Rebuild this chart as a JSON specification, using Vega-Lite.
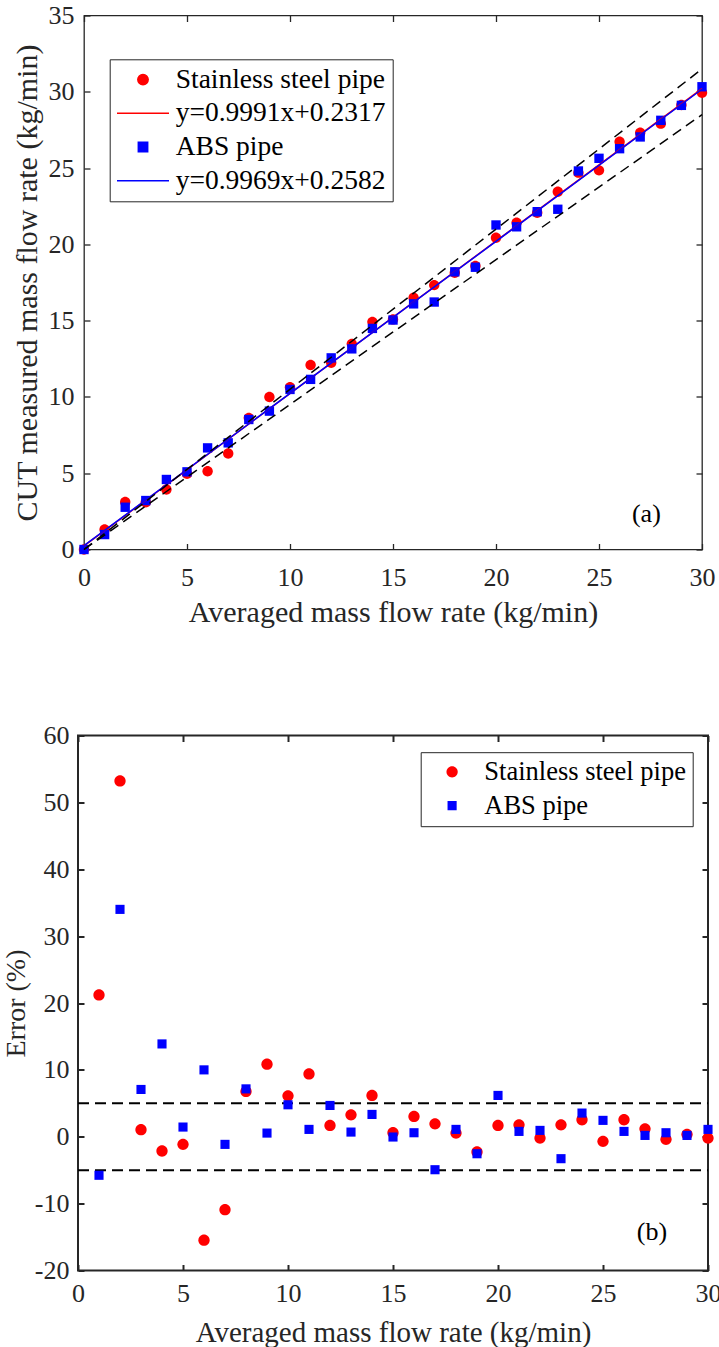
{
  "$schema": "https://vega.github.io/schema/vega-lite/v6.json",
  "padding": {"left": 0, "top": 1.5, "right": 0, "bottom": 0},
  "background": "white",
  "config": {
    "font": "Liberation Serif",
    "view": {"stroke": "#262626"},
    "axis": {
      "domain": false,
      "grid": false,
      "labelFont": "Liberation Serif",
      "titleFont": "Liberation Serif",
      "labelColor": "#262626",
      "titleColor": "#262626",
      "titleFontWeight": "normal",
      "labelFontSize": 26,
      "titleFontSize": 30,
      "tickColor": "#262626",
      "tickWidth": 1.3,
      "labelFlush": false,
      "labelOverlap": false
    },
    "legend": {"labelFont": "Liberation Serif", "labelColor": "#000000", "labelLimit": 500, "title": null}
  },
  "datasets": {
    "top_pts": [
      {"x": 0, "y": 0, "series": "Stainless steel pipe"},
      {"x": 1, "y": 1.31, "series": "Stainless steel pipe"},
      {"x": 2, "y": 3.12, "series": "Stainless steel pipe"},
      {"x": 3, "y": 3.1, "series": "Stainless steel pipe"},
      {"x": 4, "y": 3.93, "series": "Stainless steel pipe"},
      {"x": 5, "y": 4.96, "series": "Stainless steel pipe"},
      {"x": 6, "y": 5.13, "series": "Stainless steel pipe"},
      {"x": 7, "y": 6.29, "series": "Stainless steel pipe"},
      {"x": 8, "y": 8.63, "series": "Stainless steel pipe"},
      {"x": 9, "y": 10.0, "series": "Stainless steel pipe"},
      {"x": 10, "y": 10.64, "series": "Stainless steel pipe"},
      {"x": 11, "y": 12.09, "series": "Stainless steel pipe"},
      {"x": 12, "y": 12.24, "series": "Stainless steel pipe"},
      {"x": 13, "y": 13.48, "series": "Stainless steel pipe"},
      {"x": 14, "y": 14.92, "series": "Stainless steel pipe"},
      {"x": 15, "y": 15.08, "series": "Stainless steel pipe"},
      {"x": 16, "y": 16.5, "series": "Stainless steel pipe"},
      {"x": 17, "y": 17.33, "series": "Stainless steel pipe"},
      {"x": 18, "y": 18.14, "series": "Stainless steel pipe"},
      {"x": 19, "y": 18.58, "series": "Stainless steel pipe"},
      {"x": 20, "y": 20.43, "series": "Stainless steel pipe"},
      {"x": 21, "y": 21.42, "series": "Stainless steel pipe"},
      {"x": 22, "y": 22.07, "series": "Stainless steel pipe"},
      {"x": 23, "y": 23.45, "series": "Stainless steel pipe"},
      {"x": 24, "y": 24.7, "series": "Stainless steel pipe"},
      {"x": 25, "y": 24.85, "series": "Stainless steel pipe"},
      {"x": 26, "y": 26.73, "series": "Stainless steel pipe"},
      {"x": 27, "y": 27.32, "series": "Stainless steel pipe"},
      {"x": 28, "y": 27.91, "series": "Stainless steel pipe"},
      {"x": 29, "y": 29.13, "series": "Stainless steel pipe"},
      {"x": 30, "y": 29.94, "series": "Stainless steel pipe"},
      {"x": 0, "y": 0, "series": "ABS pipe"},
      {"x": 1, "y": 0.98, "series": "ABS pipe"},
      {"x": 2, "y": 2.77, "series": "ABS pipe"},
      {"x": 3, "y": 3.21, "series": "ABS pipe"},
      {"x": 4, "y": 4.59, "series": "ABS pipe"},
      {"x": 5, "y": 5.09, "series": "ABS pipe"},
      {"x": 6, "y": 6.66, "series": "ABS pipe"},
      {"x": 7, "y": 6.99, "series": "ABS pipe"},
      {"x": 8, "y": 8.52, "series": "ABS pipe"},
      {"x": 9, "y": 9.07, "series": "ABS pipe"},
      {"x": 10, "y": 10.49, "series": "ABS pipe"},
      {"x": 11, "y": 11.15, "series": "ABS pipe"},
      {"x": 12, "y": 12.56, "series": "ABS pipe"},
      {"x": 13, "y": 13.15, "series": "ABS pipe"},
      {"x": 14, "y": 14.49, "series": "ABS pipe"},
      {"x": 15, "y": 15.04, "series": "ABS pipe"},
      {"x": 16, "y": 16.1, "series": "ABS pipe"},
      {"x": 17, "y": 16.22, "series": "ABS pipe"},
      {"x": 18, "y": 18.2, "series": "ABS pipe"},
      {"x": 19, "y": 18.5, "series": "ABS pipe"},
      {"x": 20, "y": 21.27, "series": "ABS pipe"},
      {"x": 21, "y": 21.15, "series": "ABS pipe"},
      {"x": 22, "y": 22.14, "series": "ABS pipe"},
      {"x": 23, "y": 22.3, "series": "ABS pipe"},
      {"x": 24, "y": 24.81, "series": "ABS pipe"},
      {"x": 25, "y": 25.64, "series": "ABS pipe"},
      {"x": 26, "y": 26.27, "series": "ABS pipe"},
      {"x": 27, "y": 27.04, "series": "ABS pipe"},
      {"x": 28, "y": 28.13, "series": "ABS pipe"},
      {"x": 29, "y": 29.11, "series": "ABS pipe"},
      {"x": 30, "y": 30.33, "series": "ABS pipe"}
    ],
    "top_fit": [
      {"x": 0, "y": 0.2317, "series": "y=0.9991x+0.2317"},
      {"x": 30, "y": 30.2047, "series": "y=0.9991x+0.2317"},
      {"x": 0, "y": 0.2582, "series": "y=0.9969x+0.2582"},
      {"x": 30, "y": 30.1652, "series": "y=0.9969x+0.2582"}
    ],
    "top_band": [
      {"x": 0, "y": 0, "grp": "plus5"},
      {"x": 30, "y": 31.5, "grp": "plus5"},
      {"x": 0, "y": 0, "grp": "minus5"},
      {"x": 30, "y": 28.5, "grp": "minus5"}
    ],
    "err_pts": [
      {"x": 1, "y": 21.2, "series": "Stainless steel pipe"},
      {"x": 2, "y": 53.2, "series": "Stainless steel pipe"},
      {"x": 3, "y": 1.05, "series": "Stainless steel pipe"},
      {"x": 4, "y": -2.13, "series": "Stainless steel pipe"},
      {"x": 5, "y": -1.14, "series": "Stainless steel pipe"},
      {"x": 6, "y": -15.46, "series": "Stainless steel pipe"},
      {"x": 7, "y": -10.9, "series": "Stainless steel pipe"},
      {"x": 8, "y": 6.78, "series": "Stainless steel pipe"},
      {"x": 9, "y": 10.85, "series": "Stainless steel pipe"},
      {"x": 10, "y": 6.12, "series": "Stainless steel pipe"},
      {"x": 11, "y": 9.4, "series": "Stainless steel pipe"},
      {"x": 12, "y": 1.7, "series": "Stainless steel pipe"},
      {"x": 13, "y": 3.28, "series": "Stainless steel pipe"},
      {"x": 14, "y": 6.18, "series": "Stainless steel pipe"},
      {"x": 15, "y": 0.6, "series": "Stainless steel pipe"},
      {"x": 16, "y": 3.04, "series": "Stainless steel pipe"},
      {"x": 17, "y": 1.94, "series": "Stainless steel pipe"},
      {"x": 18, "y": 0.55, "series": "Stainless steel pipe"},
      {"x": 19, "y": -2.28, "series": "Stainless steel pipe"},
      {"x": 20, "y": 1.7, "series": "Stainless steel pipe"},
      {"x": 21, "y": 1.79, "series": "Stainless steel pipe"},
      {"x": 22, "y": -0.2, "series": "Stainless steel pipe"},
      {"x": 23, "y": 1.79, "series": "Stainless steel pipe"},
      {"x": 24, "y": 2.54, "series": "Stainless steel pipe"},
      {"x": 25, "y": -0.69, "series": "Stainless steel pipe"},
      {"x": 26, "y": 2.54, "series": "Stainless steel pipe"},
      {"x": 27, "y": 1.19, "series": "Stainless steel pipe"},
      {"x": 28, "y": -0.39, "series": "Stainless steel pipe"},
      {"x": 29, "y": 0.36, "series": "Stainless steel pipe"},
      {"x": 30, "y": -0.2, "series": "Stainless steel pipe"},
      {"x": 1, "y": -5.76, "series": "ABS pipe"},
      {"x": 2, "y": 34.0, "series": "ABS pipe"},
      {"x": 3, "y": 7.07, "series": "ABS pipe"},
      {"x": 4, "y": 13.88, "series": "ABS pipe"},
      {"x": 5, "y": 1.45, "series": "ABS pipe"},
      {"x": 6, "y": 10.0, "series": "ABS pipe"},
      {"x": 7, "y": -1.14, "series": "ABS pipe"},
      {"x": 8, "y": 7.16, "series": "ABS pipe"},
      {"x": 9, "y": 0.55, "series": "ABS pipe"},
      {"x": 10, "y": 4.78, "series": "ABS pipe"},
      {"x": 11, "y": 1.1, "series": "ABS pipe"},
      {"x": 12, "y": 4.68, "series": "ABS pipe"},
      {"x": 13, "y": 0.7, "series": "ABS pipe"},
      {"x": 14, "y": 3.34, "series": "ABS pipe"},
      {"x": 15, "y": -0.04, "series": "ABS pipe"},
      {"x": 16, "y": 0.6, "series": "ABS pipe"},
      {"x": 17, "y": -4.93, "series": "ABS pipe"},
      {"x": 18, "y": 1.1, "series": "ABS pipe"},
      {"x": 19, "y": -2.54, "series": "ABS pipe"},
      {"x": 20, "y": 6.18, "series": "ABS pipe"},
      {"x": 21, "y": 0.8, "series": "ABS pipe"},
      {"x": 22, "y": 0.95, "series": "ABS pipe"},
      {"x": 23, "y": -3.28, "series": "ABS pipe"},
      {"x": 24, "y": 3.54, "series": "ABS pipe"},
      {"x": 25, "y": 2.45, "series": "ABS pipe"},
      {"x": 26, "y": 0.8, "series": "ABS pipe"},
      {"x": 27, "y": 0.2, "series": "ABS pipe"},
      {"x": 28, "y": 0.6, "series": "ABS pipe"},
      {"x": 29, "y": 0.2, "series": "ABS pipe"},
      {"x": 30, "y": 1.1, "series": "ABS pipe"}
    ],
    "err_band": [
      {"x": 0, "y": 5, "grp": "plus5"},
      {"x": 30, "y": 5, "grp": "plus5"},
      {"x": 0, "y": -5, "grp": "minus5"},
      {"x": 30, "y": -5, "grp": "minus5"}
    ],
    "lab_a": [{"x": 27.3, "y": 2.3, "t": "(a)"}],
    "lab_b": [{"x": 27.33, "y": -14.2, "t": "(b)"}]
  },
  "spacing": 93,
  "resolve": {
    "scale": {"color": "independent", "shape": "independent"},
    "legend": {"color": "independent", "shape": "independent"}
  },
  "vconcat": [
    {
      "spacing": 0,
      "hconcat": [
        {
          "width": 10.6,
          "height": 1,
          "view": {"stroke": null},
          "data": {"values": []},
          "mark": {"type": "point", "opacity": 0},
          "encoding": {}
        },
        {
          "width": 618,
          "height": 534,
          "view": {"stroke": "#262626", "strokeWidth": 1.3},
          "resolve": {"axis": {"x": "independent", "y": "independent"}},
          "layer": [
            {
              "data": {"name": "top_pts"},
              "mark": {"type": "point", "filled": true, "size": 2704, "opacity": 1, "strokeWidth": 0},
              "encoding": {
                "x": {"field": "x", "type": "quantitative", "scale": {"domain": [0, 30], "nice": false, "zero": false},
                  "axis": {"orient": "bottom", "ticks": false, "tickSize": 0, "values": [0, 5, 10, 15, 20, 25, 30], "labelPadding": 15.4, "title": "Averaged mass flow rate (kg/min)", "titlePadding": 6.5, "titleFontSize": 30}},
                "y": {"field": "y", "type": "quantitative", "scale": {"domain": [0, 35], "nice": false, "zero": false},
                  "axis": {"orient": "left", "ticks": false, "tickSize": 0, "values": [0, 5, 10, 15, 20, 25, 30, 35], "labelPadding": 10, "title": "CUT measured mass flow rate (kg/min)", "titlePadding": 6, "titleFontSize": 30}},
                "color": {"field": "series", "type": "nominal",
                  "scale": {"domain": ["Stainless steel pipe", "y=0.9991x+0.2317", "ABS pipe", "y=0.9969x+0.2582"], "range": ["#ff0000", "#ff0000", "#0000ff", "#0000ff"]},
                  "legend": {"orient": "none", "legendX": 109.7, "legendY": 43.8, "labelFontSize": 27.5, "symbolSize": 2704, "strokeColor": "#262626", "fillColor": "#ffffff", "padding": 6.3, "labelOffset": 5.7, "rowPadding": 5.7, "clipHeight": 28,
                    "encode": {"symbols": {"update": {
                      "fill": {"signal": "(datum.value === 'ABS pipe' || datum.value === 'y=0.9969x+0.2582') ? '#0000ff' : '#ff0000'"},
                      "stroke": {"signal": "(datum.value === 'ABS pipe' || datum.value === 'y=0.9969x+0.2582') ? '#0000ff' : '#ff0000'"},
                      "strokeWidth": {"value": 1.5},
                      "opacity": {"value": 1}}}}}},
                "shape": {"field": "series", "type": "nominal",
                  "scale": {"domain": ["Stainless steel pipe", "y=0.9991x+0.2317", "ABS pipe", "y=0.9969x+0.2582"],
                    "range": ["M-0.2,0A0.2,0.2,0,1,0,0.2,0A0.2,0.2,0,1,0,-0.2,0Z", "stroke", "M-0.18,-0.18H0.18V0.18H-0.18Z", "stroke"]}}
              }
            },
            {
              "data": {"name": "top_fit"},
              "mark": {"type": "line", "strokeWidth": 1.5},
              "encoding": {
                "x": {"field": "x", "type": "quantitative",
                  "axis": {"orient": "bottom", "labels": false, "title": null, "ticks": true, "tickSize": -6, "values": [0, 5, 10, 15, 20, 25, 30]}},
                "y": {"field": "y", "type": "quantitative",
                  "axis": {"orient": "left", "labels": false, "title": null, "ticks": true, "tickSize": -6, "values": [0, 5, 10, 15, 20, 25, 30, 35]}},
                "color": {"field": "series", "type": "nominal"}
              }
            },
            {
              "data": {"name": "top_band"},
              "mark": {"type": "line", "color": "#000000", "strokeWidth": 1.5, "strokeDash": [10, 6]},
              "encoding": {
                "x": {"field": "x", "type": "quantitative",
                  "axis": {"orient": "top", "labels": false, "title": null, "ticks": true, "tickSize": -6, "values": [0, 5, 10, 15, 20, 25, 30]}},
                "y": {"field": "y", "type": "quantitative",
                  "axis": {"orient": "right", "labels": false, "title": null, "ticks": true, "tickSize": -6, "values": [0, 5, 10, 15, 20, 25, 30, 35]}},
                "detail": {"field": "grp", "type": "nominal"}
              }
            },
            {
              "data": {"name": "lab_a"},
              "mark": {"type": "text", "fontSize": 26, "font": "Liberation Serif", "color": "#000000", "align": "center", "baseline": "middle"},
              "encoding": {
                "x": {"field": "x", "type": "quantitative", "axis": null},
                "y": {"field": "y", "type": "quantitative", "axis": null},
                "text": {"field": "t"}
              }
            }
          ]
        }
      ]
    },
    {
      "spacing": 0,
      "hconcat": [
        {
          "width": 0.5,
          "height": 1,
          "view": {"stroke": null},
          "data": {"values": []},
          "mark": {"type": "point", "opacity": 0},
          "encoding": {}
        },
        {
          "width": 630,
          "height": 535,
          "view": {"stroke": "#262626", "strokeWidth": 2},
          "resolve": {"axis": {"x": "independent", "y": "independent"}},
          "layer": [
            {
              "data": {"name": "err_band"},
              "mark": {"type": "line", "color": "#000000", "strokeWidth": 2, "strokeDash": [11, 6]},
              "encoding": {
                "x": {"field": "x", "type": "quantitative", "scale": {"domain": [0, 30], "nice": false, "zero": false},
                  "axis": {"orient": "bottom", "labels": false, "title": null, "ticks": true, "tickSize": -6, "tickWidth": 2, "values": [0, 5, 10, 15, 20, 25, 30]}},
                "y": {"field": "y", "type": "quantitative", "scale": {"domain": [-20, 60], "nice": false, "zero": false},
                  "axis": {"orient": "left", "labels": false, "title": null, "ticks": true, "tickSize": -6, "tickWidth": 2, "values": [-20, -10, 0, 10, 20, 30, 40, 50, 60]}},
                "detail": {"field": "grp", "type": "nominal"}
              }
            },
            {
              "data": {"name": "err_pts"},
              "mark": {"type": "point", "filled": true, "size": 2304, "opacity": 1, "strokeWidth": 0},
              "encoding": {
                "x": {"field": "x", "type": "quantitative",
                  "axis": {"orient": "bottom", "ticks": false, "tickSize": 0, "values": [0, 5, 10, 15, 20, 25, 30], "labelPadding": 10, "title": "Averaged mass flow rate (kg/min)", "titlePadding": 12, "titleFontSize": 29}},
                "y": {"field": "y", "type": "quantitative",
                  "axis": {"orient": "left", "ticks": false, "tickSize": 0, "values": [-20, -10, 0, 10, 20, 30, 40, 50, 60], "labelExpr": "replace(datum.label, '−', '-')", "labelPadding": 9, "title": "Error (%)", "titlePadding": 3.5, "titleFontSize": 28}},
                "color": {"field": "series", "type": "nominal",
                  "scale": {"domain": ["Stainless steel pipe", "ABS pipe"], "range": ["#ff0000", "#0000ff"]},
                  "legend": {"orient": "none", "legendX": 420.7, "legendY": 16.7, "labelFontSize": 26.5, "symbolSize": 2304, "strokeColor": "#262626", "fillColor": "#ffffff", "padding": 6.4, "labelOffset": 7.2, "rowPadding": 6.8, "clipHeight": 26.5,
                    "encode": {"symbols": {"update": {
                      "fill": {"signal": "datum.value === 'ABS pipe' ? '#0000ff' : '#ff0000'"},
                      "stroke": {"signal": "datum.value === 'ABS pipe' ? '#0000ff' : '#ff0000'"},
                      "strokeWidth": {"value": 0.8},
                      "opacity": {"value": 1}}}}}},
                "shape": {"field": "series", "type": "nominal",
                  "scale": {"domain": ["Stainless steel pipe", "ABS pipe"],
                    "range": ["M-1,0M-0.235,0A0.235,0.235,0,1,0,0.235,0A0.235,0.235,0,1,0,-0.235,0Z", "M-1,0M-0.19,-0.19H0.19V0.19H-0.19Z"]}}
              }
            },
            {
              "data": {"name": "lab_b"},
              "mark": {"type": "text", "fontSize": 26, "font": "Liberation Serif", "color": "#000000", "align": "center", "baseline": "middle"},
              "encoding": {
                "x": {"field": "x", "type": "quantitative",
                  "axis": {"orient": "top", "labels": false, "title": null, "ticks": true, "tickSize": -6, "tickWidth": 2, "values": [0, 5, 10, 15, 20, 25, 30]}},
                "y": {"field": "y", "type": "quantitative",
                  "axis": {"orient": "right", "labels": false, "title": null, "ticks": true, "tickSize": -6, "tickWidth": 2, "values": [-20, -10, 0, 10, 20, 30, 40, 50, 60]}},
                "text": {"field": "t"}
              }
            }
          ]
        }
      ]
    }
  ]
}
